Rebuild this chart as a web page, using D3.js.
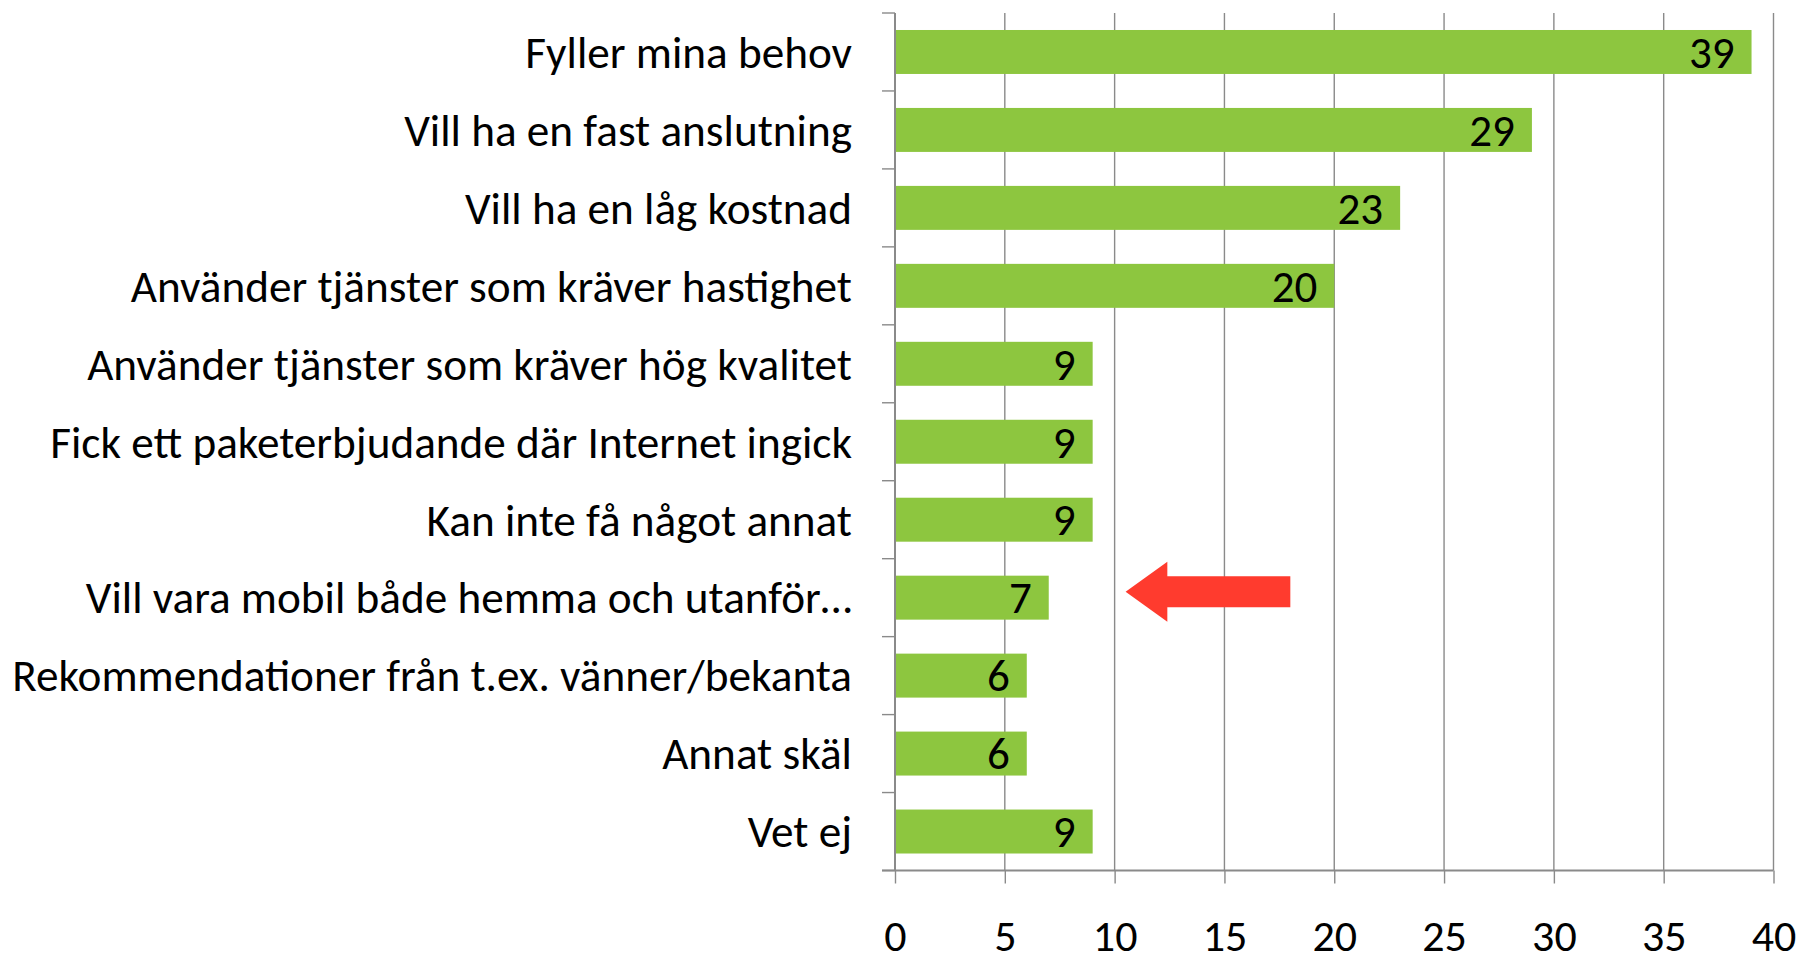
<!DOCTYPE html>
<html>
<head>
<meta charset="utf-8">
<script src="https://cdn.jsdelivr.net/npm/d3@7"></script>
<style>
  body { margin: 0; background: #fff; }
  text { font-family: Carlito, 'Liberation Sans Narrow', Lato, sans-serif; fill: #000; }
</style>
</head>
<body>
<svg width="1801" height="962"></svg>
<script>
const categories = [
  'Fyller mina behov',
  'Vill ha en fast anslutning',
  'Vill ha en låg kostnad',
  'Använder tjänster som kräver hastighet',
  'Använder tjänster som kräver hög kvalitet',
  'Fick ett paketerbjudande där Internet ingick',
  'Kan inte få något annat',
  'Vill vara mobil både hemma och utanför…',
  'Rekommendationer från t.ex. vänner/bekanta',
  'Annat skäl',
  'Vet ej'
];
const values = [39, 29, 23, 20, 9, 9, 9, 7, 6, 6, 9];
const xTicks = [0, 5, 10, 15, 20, 25, 30, 35, 40];
// arrow annotation pointing at 'Vill vara mobil...'
const arrowFrom = 18, arrowTo = 10.5, arrowHead = 12.4;

let svg = d3.select('svg');
const gridColour = '#8a8a8a';

let x = d3.scaleLinear().domain([0, 40]).range([895, 1773.5]);
let y = d3.scaleBand().domain(categories).range([13, 870.5])
  .paddingInner(0.436).paddingOuter(0.218);

// vertical gridlines
svg.append('g').selectAll('line')
  .data(xTicks.slice(1))
  .enter().append('line')
    .attr('x1', d => x(d)).attr('x2', d => x(d))
    .attr('y1', y.range()[0]).attr('y2', y.range()[1])
    .attr('stroke', gridColour).attr('stroke-width', 1.4);

// bars
svg.append('g').selectAll('rect')
  .data(values)
  .enter().append('rect')
    .attr('x', x(0))
    .attr('y', (d, i) => y(categories[i]))
    .attr('width', d => x(d) - x(0))
    .attr('height', y.bandwidth())
    .attr('fill', '#8dc63f');

// value labels
svg.append('g').selectAll('text')
  .data(values)
  .enter().append('text')
    .attr('x', d => x(d) - 17)
    .attr('y', (d, i) => y(categories[i]) + y.bandwidth() / 2)
    .attr('dy', '0.35em')
    .attr('text-anchor', 'end')
    .attr('font-size', 45)
    .text(d => d);

// x axis
let xAxis = svg.append('g')
  .attr('transform', 'translate(0,' + y.range()[1] + ')')
  .call(d3.axisBottom(x).tickValues(xTicks).tickSize(13).tickSizeOuter(0));
xAxis.attr('font-family', null).attr('font-size', null);
xAxis.select('.domain').remove();
xAxis.selectAll('line').attr('stroke', gridColour).attr('stroke-width', 1.4);
xAxis.selectAll('text')
  .attr('y', 80).attr('dy', 0)
  .attr('font-size', 44);
svg.append('line')
  .attr('x1', x(0) - 13).attr('x2', x(40))
  .attr('y1', y.range()[1]).attr('y2', y.range()[1])
  .attr('stroke', gridColour).attr('stroke-width', 2);

// y axis: line plus ticks on category boundaries
svg.append('line')
  .attr('x1', x(0)).attr('x2', x(0))
  .attr('y1', y.range()[0]).attr('y2', y.range()[1])
  .attr('stroke', gridColour).attr('stroke-width', 2);
svg.append('g').selectAll('line')
  .data(d3.range(categories.length + 1))
  .enter().append('line')
    .attr('x1', x(0) - 13).attr('x2', x(0))
    .attr('y1', k => y.range()[0] + k * y.step())
    .attr('y2', k => y.range()[0] + k * y.step())
    .attr('stroke', gridColour).attr('stroke-width', 1.4);

// category labels, sized so the longest one spans the same width as in the original
let labels = svg.append('g').selectAll('text')
  .data(categories)
  .enter().append('text')
    .attr('x', 852)
    .attr('y', d => y(d) + y.bandwidth() / 2)
    .attr('dy', '0.35em')
    .attr('text-anchor', 'end')
    .attr('font-size', 46)
    .text(d => d);
let widest = d3.max(labels.nodes(), n => n.getComputedTextLength());
let labelSize = Math.min(48, 46 * 840 / widest);
labels.attr('font-size', labelSize);

// red arrow
let cy = y(categories[7]) + y.bandwidth() / 2 - 6;
let arrowPts = [
  [x(arrowTo), cy],
  [x(arrowHead), cy - 30],
  [x(arrowHead), cy - 15.5],
  [x(arrowFrom), cy - 15.5],
  [x(arrowFrom), cy + 15.5],
  [x(arrowHead), cy + 15.5],
  [x(arrowHead), cy + 30]
];
svg.append('polygon')
  .attr('points', arrowPts.map(p => p.join(',')).join(' '))
  .attr('fill', '#ff3b2e');
</script>
</body>
</html>
